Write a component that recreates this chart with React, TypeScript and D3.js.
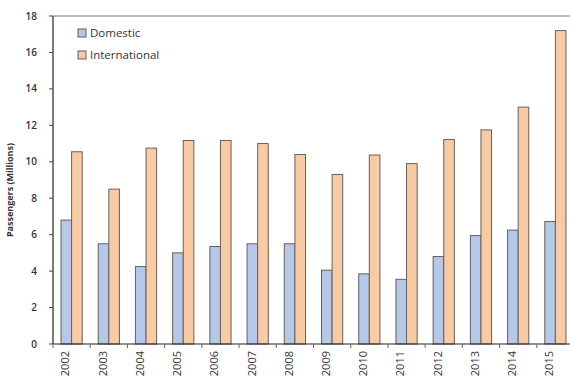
import React from "react";
import * as d3 from "d3";

const years = ["2002", "2003", "2004", "2005", "2006", "2007", "2008", "2009", "2010", "2011", "2012", "2013", "2014", "2015"];
const domestic = [6.8, 5.5, 4.25, 5.0, 5.35, 5.5, 5.5, 4.05, 3.85, 3.55, 4.8, 5.95, 6.25, 6.72];
const international = [10.55, 8.5, 10.75, 11.17, 11.17, 11.0, 10.4, 9.3, 10.37, 9.9, 11.22, 11.75, 13.0, 17.2];
const yTicks = [0, 2, 4, 6, 8, 10, 12, 14, 16, 18];
const seriesNames = ["Domestic", "International"];
const seriesColors = ["#b5c8ea", "#f9cba5"];

const W = 570;
const H = 382;
const margin = { left: 53, top: 16, bottom: 38 };
const plotRight = 574;
const font = "'Open Sans', 'Liberation Sans', sans-serif";

export default function App() {
  const x = d3.scaleBand<string>().domain(years).range([margin.left, plotRight]).paddingInner(0.43).paddingOuter(0.215);
  const y = d3.scaleLinear().domain([0, 18]).range([H - margin.bottom, margin.top]);
  const band = (plotRight - margin.left) / years.length;
  const sub = d3.scaleBand<number>().domain([0, 1]).range([0, x.bandwidth()]);
  const series = [domestic, international];
  const y0 = y(0);

  return (
    <svg width={W} height={H} style={{ position: "absolute", left: 0, top: 0, background: "#fff" }}>
      <rect x={0} y={0} width={W} height={H} fill="#fff" />
      {/* plot frame top */}
      <line x1={margin.left} x2={W} y1={margin.top} y2={margin.top} stroke="#a6a6a6" strokeWidth={1.5} />
      {/* bars */}
      {years.map((yr, i) => (
        <g key={yr}>
          {series.map((vals, s) => (
            <rect
              key={s}
              x={(x(yr) as number) + (sub(s) as number)}
              y={y(vals[i])}
              width={sub.bandwidth()}
              height={y0 - y(vals[i])}
              fill={seriesColors[s]}
              stroke="#66605a"
              strokeWidth={1}
            />
          ))}
        </g>
      ))}
      {/* y axis */}
      <line x1={margin.left} x2={margin.left} y1={margin.top} y2={y0} stroke="#222" strokeWidth={1.2} />
      {yTicks.map((t) => (
        <g key={t}>
          <line x1={margin.left - 4} x2={margin.left} y1={y(t)} y2={y(t)} stroke="#444" />
          <text x={37} y={y(t)} dy="0.35em" textAnchor="end" fontFamily={font} fontSize={10} fontWeight={600} fill="#333">
            {t}
          </text>
        </g>
      ))}
      <text
        transform={`translate(13,190) rotate(-90)`}
        textAnchor="middle"
        fontFamily={font}
        fontSize={9}
        fontWeight={700}
        fill="#333"
      >
        Passengers (Millions)
      </text>
      {/* x axis */}
      <line x1={margin.left} x2={W} y1={y0} y2={y0} stroke="#222" strokeWidth={1.2} />
      {d3.range(years.length + 1).map((k) => (
        <line key={k} x1={margin.left + k * band} x2={margin.left + k * band} y1={y0} y2={y0 + 4} stroke="#666" />
      ))}
      {years.map((yr, i) => (
        <text
          key={yr}
          transform={`translate(${margin.left + (i + 0.5) * band - 6},${y0 + 7}) rotate(-90)`}
          dy="0.35em"
          textAnchor="end"
          fontFamily={font}
          fontSize={11}
          fill="#333"
        >
          {yr}
        </text>
      ))}
      {/* legend */}
      {seriesNames.map((n, s) => (
        <g key={n} transform={`translate(78,${33 + s * 22})`}>
          <rect x={0} y={-4} width={8} height={8} fill={seriesColors[s]} stroke="#66605a" />
          <text x={12} y={0} dy="0.35em" fontFamily={font} fontSize={11.5} fill="#333">
            {n}
          </text>
        </g>
      ))}
    </svg>
  );
}
